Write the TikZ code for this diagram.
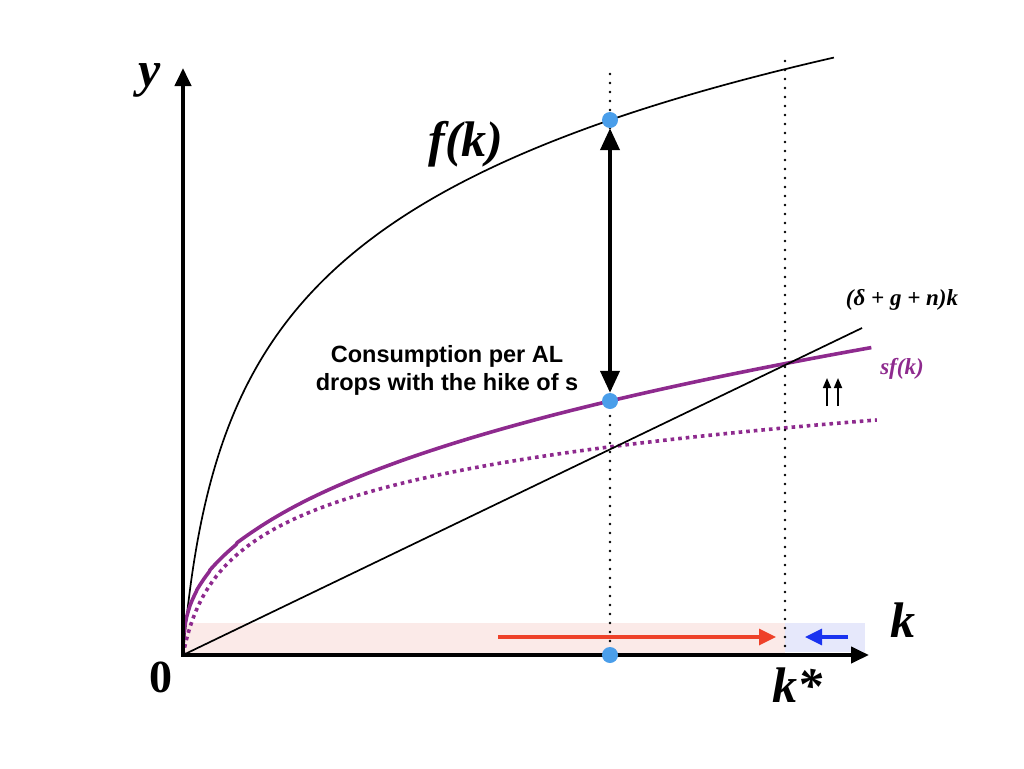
\documentclass[tikz,border=0pt]{standalone}
\usepackage{fontspec}
\setmainfont{Liberation Serif}
\newfontfamily\sansb{Liberation Sans}
\usetikzlibrary{arrows.meta}
\definecolor{curvepurple}{HTML}{8E2A8E}
\definecolor{dotblue}{HTML}{4A9EEA}
\definecolor{bandpink}{HTML}{FBEAE8}
\definecolor{bandblue}{HTML}{E6E8FB}
\definecolor{arrred}{HTML}{EE4129}
\definecolor{arrblue}{HTML}{1A33F0}
\tikzset{
  axisline/.style={line width=4pt,-{Triangle[length=18pt,width=16pt]}},
  dot/.style={circle,fill=dotblue,inner sep=0pt,minimum size=16pt},
  vdotted/.style={line width=2.8pt,dash pattern=on 0pt off 9pt,line cap=round},
  bigarrow/.style={line width=4pt,{Triangle[length=22pt,width=19pt]}-{Triangle[length=22pt,width=19pt]}},
  thincurve/.style={line width=1.7pt,line join=round},
  purplecurve/.style={line width=3.6pt,curvepurple,line join=round},
  purpledotted/.style={line width=3.6pt,curvepurple,dash pattern=on 3.6pt off 4pt},
  biglabel/.style={font=\fontsize{50}{50}\selectfont\bfseries\itshape,inner sep=0pt},
  smalllabel/.style={font=\fontsize{23}{23}\selectfont\bfseries\itshape,inner sep=0pt},
  note/.style={font=\sansb\bfseries\fontsize{23.5}{28}\selectfont,align=center,inner sep=0pt},
}
\begin{document}
\begin{tikzpicture}[x=1pt,y=-1pt]
\useasboundingbox (0,0) rectangle (1024,768);
% bands
\fill[bandpink] (183,623) rectangle (785,655);
\fill[bandblue] (785,623) rectangle (865,652);
% coordinates
\coordinate (O) at (183,655);
\coordinate (ytip) at (183,68);
\coordinate (xtip) at (869,655);
% f(k)
\draw[thincurve] plot[domain=0:1,samples=300] ({183+652*\x*\x},{655-151.9*ln(1+652*\x*\x/13)});
% dotted sf(k) before the hike
\draw[purpledotted] plot[domain=0:1,samples=300] ({183+695*\x*\x},{655-56.5*ln(1+695*\x*\x/11)});
% sf(k)
\draw[purplecurve] plot[domain=0.01:1,samples=300] ({183+690*\x*\x},{655-254*exp(0.4*ln(690*\x*\x/427))});
\coordinate (lineend) at (862,328);
\draw[thincurve] (O) -- (lineend);
% vertical dotted lines
\coordinate (v1top) at (610,74);
\coordinate (v1bot) at (610,650);
\coordinate (v2top) at (785,61);
\coordinate (v2bot) at (785,650);
\draw[vdotted] (v1top) -- (v1bot);
\draw[vdotted] (v2top) -- (v2bot);
% axes
\draw[axisline] (O) -- (ytip);
\draw[axisline] (181,655) -- (xtip);
% dots
\node[dot] (dtop) at (610,120) {};
\node[dot] (dmid) at (610,401) {};
\node[dot] (dbot) at (610,655) {};
\draw[bigarrow] (dtop) -- (dmid);
% horizontal arrows
\coordinate (ra1) at (498,637);
\coordinate (ra2) at (776,637);
\draw[arrred,line width=3.3pt,-{Triangle[length=17pt,width=16pt]}] (ra1) -- (ra2);
\coordinate (ba1) at (848,637);
\coordinate (ba2) at (805,637);
\draw[arrblue,line width=3.3pt,-{Triangle[length=17pt,width=16pt]}] (ba1) -- (ba2);
% small up arrows
\coordinate (ua1) at (827,406);
\coordinate (ua2) at (827,378);
\coordinate (ub1) at (838,406);
\coordinate (ub2) at (838,378);
\draw[line width=1.7pt,-{Triangle[length=10pt,width=8pt]}] (ua1) -- (ua2);
\draw[line width=1.7pt,-{Triangle[length=10pt,width=8pt]}] (ub1) -- (ub2);
% labels
\node[biglabel] (ylab) at (150,80) {y};
\node[biglabel] (flab) at (466,144) {f(k)};
\node[biglabel] (klab) at (903,620) {k};
\node[biglabel] (kslab) at (797,685) {k*};
\node[font=\fontsize{46}{46}\selectfont\bfseries,inner sep=0pt] (zlab) at (161,677) {0};
\node[smalllabel] (glab) at (902,300) {(δ + g + n)k};
\node[smalllabel,text=curvepurple] (slab) at (902,369) {sf(k)};
\node[note] (txt) at (447,370) {Consumption per AL\\drops with the hike of s};
\end{tikzpicture}
\end{document}
